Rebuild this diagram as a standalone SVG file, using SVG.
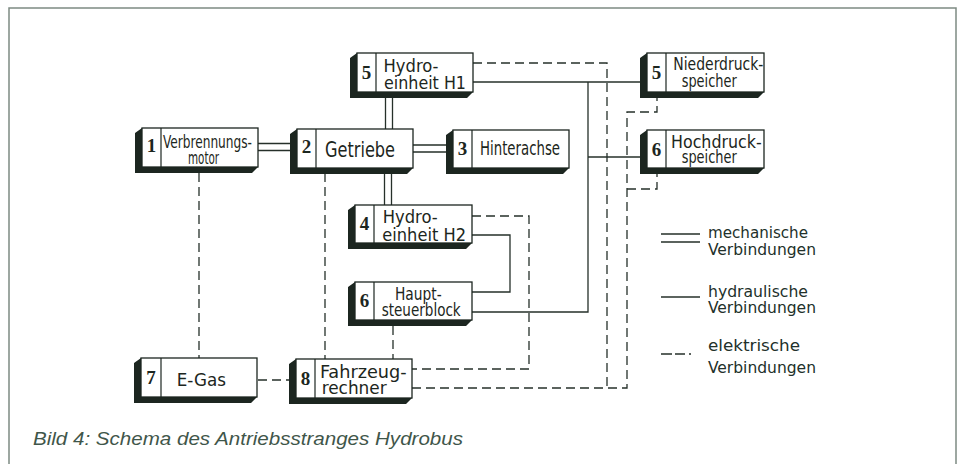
<svg xmlns="http://www.w3.org/2000/svg" width="961" height="464" viewBox="0 0 961 464">
<style>
.sh{fill:#1c2620}
.bx{fill:#fff;stroke:#1c2620;stroke-width:1.3}
.dv{stroke:#1c2620;stroke-width:1.2}
.num{font-family:"Liberation Serif",serif;font-weight:bold;font-size:19px;fill:#1c2620;text-anchor:middle}
.lb{font-family:"Liberation Sans Narrow","DejaVu Sans Condensed","Liberation Sans",sans-serif;font-size:18.5px;fill:#1c2620}
.lg{font-family:"Liberation Sans Narrow","DejaVu Sans Condensed","Liberation Sans",sans-serif;font-size:16px;fill:#22302a}
.ln{stroke:#26302a;stroke-width:1.3;fill:none}
.el{stroke-dasharray:9 5}
.cap{font-family:"Liberation Sans",Arial,sans-serif;font-style:italic;font-size:18px;fill:#3f564a}
</style>
<rect width="961" height="464" fill="#fff"/>
<path d="M9,470 V8 H956 V470" fill="none" stroke="#7d8b82" stroke-width="1.5"/>
<g id="connectors">
  <g id="mechanical" class="ln">
    <path d="M258,143.5 H292 M258,150.5 H292"/>
    <path d="M413,145 H448 M413,152 H448"/>
    <path d="M385.5,92 V129 M392.5,92 V129"/>
    <path d="M384.5,168 V205 M391.5,168 V205"/>
  </g>
  <g id="hydraulic" class="ln">
    <path d="M473,82 H642"/>
    <path d="M588,82 V312 H472"/>
    <path d="M588,157 H642"/>
    <path d="M472,235 H510 V292 H472"/>
  </g>
  <g id="electric" class="ln el">
    <path d="M473,63 H607 V388"/>
    <path d="M412,388 H627 V112 H657 V96"/>
    <path d="M627,189 H657 V172"/>
    <path d="M472,216 H529 V369 H412"/>
    <path d="M199,173 V358"/>
    <path d="M325,173 V359"/>
    <path d="M393,326 V359"/>
    <path d="M258,380 H290"/>
  </g>
</g>
<g id="n1">
  <polygon class="sh" points="142,128 135,133 135,173 252,173 258,167 142,167"/>
  <rect class="bx" x="142" y="128" width="116" height="39"/>
  <line class="dv" x1="161" y1="128" x2="161" y2="167"/>
  <text class="num" x="151.5" y="152">1</text>
  <text class="lb" x="163" y="147.5" textLength="89" lengthAdjust="spacingAndGlyphs">Verbrennungs-</text>
  <text class="lb" x="188" y="164" textLength="31" lengthAdjust="spacingAndGlyphs">motor</text>
</g>
<g id="n2">
  <polygon class="sh" points="297,129 290,134 290,174 407,174 413,168 297,168"/>
  <rect class="bx" x="297" y="129" width="116" height="39"/>
  <line class="dv" x1="316" y1="129" x2="316" y2="168"/>
  <text class="num" x="306.5" y="153">2</text>
  <text class="lb" x="325" y="156.5" style="font-size:21px" textLength="70" lengthAdjust="spacingAndGlyphs">Getriebe</text>
</g>
<g id="n3">
  <polygon class="sh" points="453,130 446,135 446,174 563,174 569,168 453,168"/>
  <rect class="bx" x="453" y="130" width="116" height="38"/>
  <line class="dv" x1="472" y1="130" x2="472" y2="168"/>
  <text class="num" x="462.5" y="155">3</text>
  <text class="lb" x="480" y="155" style="font-size:20px" textLength="80" lengthAdjust="spacingAndGlyphs">Hinterachse</text>
</g>
<g id="n5a">
  <polygon class="sh" points="357,53 350,58 350,98 467,98 473,92 357,92"/>
  <rect class="bx" x="357" y="53" width="116" height="39"/>
  <line class="dv" x1="376" y1="53" x2="376" y2="92"/>
  <text class="num" x="366.5" y="78.5">5</text>
  <text class="lb" x="383.5" y="71.7" textLength="55" lengthAdjust="spacingAndGlyphs">Hydro-</text>
  <text class="lb" x="384" y="89.3" textLength="82" lengthAdjust="spacingAndGlyphs">einheit H1</text>
</g>
<g id="n4">
  <polygon class="sh" points="355,205 348,210 348,249 466,249 472,243 355,243"/>
  <rect class="bx" x="355" y="205" width="117" height="38"/>
  <line class="dv" x1="374" y1="205" x2="374" y2="243"/>
  <text class="num" x="364.5" y="230">4</text>
  <text class="lb" x="382.7" y="223.3" textLength="55" lengthAdjust="spacingAndGlyphs">Hydro-</text>
  <text class="lb" x="382.3" y="241.3" textLength="83.7" lengthAdjust="spacingAndGlyphs">einheit H2</text>
</g>
<g id="n6a">
  <polygon class="sh" points="355,282 348,287 348,326 466,326 472,320 355,320"/>
  <rect class="bx" x="355" y="282" width="117" height="38"/>
  <line class="dv" x1="374" y1="282" x2="374" y2="320"/>
  <text class="num" x="364.5" y="307">6</text>
  <text class="lb" x="395" y="300" textLength="46.7" lengthAdjust="spacingAndGlyphs">Haupt-</text>
  <text class="lb" x="381.7" y="316" textLength="79" lengthAdjust="spacingAndGlyphs">steuerblock</text>
</g>
<g id="n7">
  <polygon class="sh" points="141,358 134,363 134,403 251,403 257,397 141,397"/>
  <rect class="bx" x="141" y="358" width="116" height="39"/>
  <line class="dv" x1="161" y1="358" x2="161" y2="397"/>
  <text class="num" x="151" y="384">7</text>
  <text class="lb" x="176.7" y="385.7" textLength="49.3" lengthAdjust="spacingAndGlyphs">E-Gas</text>
</g>
<g id="n8">
  <polygon class="sh" points="296,359 289,364 289,404 406,404 412,398 296,398"/>
  <rect class="bx" x="296" y="359" width="116" height="39"/>
  <line class="dv" x1="315" y1="359" x2="315" y2="398"/>
  <text class="num" x="305.5" y="385">8</text>
  <text class="lb" x="320" y="377.7" textLength="86.7" lengthAdjust="spacingAndGlyphs">Fahrzeug-</text>
  <text class="lb" x="321.7" y="394" textLength="65" lengthAdjust="spacingAndGlyphs">rechner</text>
</g>
<g id="n5b">
  <polygon class="sh" points="647,53 640,58 640,98 758,98 764,92 647,92"/>
  <rect class="bx" x="647" y="53" width="117" height="39"/>
  <line class="dv" x1="666" y1="53" x2="666" y2="92"/>
  <text class="num" x="656.5" y="79">5</text>
  <text class="lb" x="673.3" y="70" textLength="90" lengthAdjust="spacingAndGlyphs">Niederdruck-</text>
  <text class="lb" x="681.7" y="86.7" textLength="55" lengthAdjust="spacingAndGlyphs">speicher</text>
</g>
<g id="n6b">
  <polygon class="sh" points="647,130 640,135 640,174 758,174 764,168 647,168"/>
  <rect class="bx" x="647" y="130" width="117" height="38"/>
  <line class="dv" x1="666" y1="130" x2="666" y2="168"/>
  <text class="num" x="656.5" y="155.5">6</text>
  <text class="lb" x="671" y="147.7" textLength="90.7" lengthAdjust="spacingAndGlyphs">Hochdruck-</text>
  <text class="lb" x="681.7" y="163.3" textLength="55" lengthAdjust="spacingAndGlyphs">speicher</text>
</g>
<g id="legend">
  <path class="ln" d="M661,234 H700 M661,242 H700"/>
  <path class="ln" d="M661,297 H700"/>
  <path class="ln" d="M661,354 H700" style="stroke-dasharray:11 3 10 4 2 20"/>
  <text class="lg" x="708" y="238" textLength="100" lengthAdjust="spacingAndGlyphs">mechanische</text>
  <text class="lg" x="708" y="255" textLength="108" lengthAdjust="spacingAndGlyphs">Verbindungen</text>
  <text class="lg" x="708" y="297" textLength="100" lengthAdjust="spacingAndGlyphs">hydraulische</text>
  <text class="lg" x="708" y="313" textLength="108" lengthAdjust="spacingAndGlyphs">Verbindungen</text>
  <text class="lg" x="708" y="351" textLength="92" lengthAdjust="spacingAndGlyphs">elektrische</text>
  <text class="lg" x="708" y="373" textLength="108" lengthAdjust="spacingAndGlyphs">Verbindungen</text>
</g>
<text class="cap" x="33" y="445" textLength="430" lengthAdjust="spacingAndGlyphs">Bild 4: Schema des Antriebsstranges Hydrobus</text>
</svg>
